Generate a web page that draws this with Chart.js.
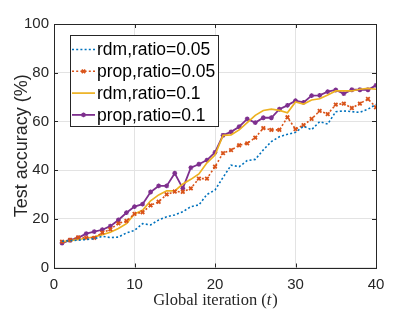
<!DOCTYPE html>
<html>
<head>
<meta charset="utf-8">
<script src="https://cdn.jsdelivr.net/npm/chart.js@4.4.1/dist/chart.umd.min.js"></script>
<style>
  html, body { margin: 0; padding: 0; background: #fff; }
  #wrap { width: 415px; height: 312px; position: relative; }
</style>
</head>
<body>
<div id="wrap"><canvas id="myChart" width="415" height="312"></canvas></div>
<script>
'use strict';

// data
var iterations = [1, 2, 3, 4, 5, 6, 7, 8, 9, 10, 11, 12, 13, 14, 15, 16, 17, 18, 19, 20,
  21, 22, 23, 24, 25, 26, 27, 28, 29, 30, 31, 32, 33, 34, 35, 36, 37, 38, 39, 40];
var seriesNames = ['rdm,ratio=0.05', 'prop,ratio=0.05', 'rdm,ratio=0.1', 'prop,ratio=0.1'];
var rdm005 = [10.8, 11, 11.2, 11.5, 11.8, 12.8, 12.3, 12.5, 14.2, 15.2, 18, 17.5, 19.5, 20.8, 21.6, 22.9, 25, 25.7, 30, 31.8,
  37, 42, 41.4, 43.9, 44.4, 48.3, 51.7, 53.7, 54.7, 55.5, 58, 56.6, 59.9, 58.9, 64, 64.3, 64, 63.7, 65, 67];
var prop005 = [10.6, 11.3, 12.4, 12.2, 12.2, 14.3, 15.7, 18.1, 19.1, 22, 22.7, 25.5, 27, 30, 31.2, 31.1, 32.5, 36.5, 36.5, 41.4,
  47, 48.2, 50.2, 51, 53.3, 57.2, 56.5, 56.5, 61.7, 56.8, 58.5, 61, 64.3, 63, 66.9, 67.3, 65.5, 67.3, 69.2, 65.8];
var rdm01 = [10.5, 11, 11.5, 12, 12.6, 13.5, 14.5, 16, 18, 22, 23.5, 27.4, 29.8, 31.5, 31.5, 34.3, 36.2, 38.4, 43, 46.2,
  54.3, 54.5, 56.5, 59.5, 62.5, 64.5, 65, 64.5, 63.5, 68, 67.1, 68.8, 69.3, 70.8, 72.5, 72.5, 72.5, 73.2, 73.6, 73.2];
var prop01 = [10, 11.2, 12.2, 13.9, 14.7, 15.5, 17, 19.5, 22.5, 25, 26, 31, 33.5, 33.5, 38.7, 32.5, 41, 42.4, 44.1, 47.3,
  54.3, 55.7, 57.8, 61, 59.5, 61.5, 61.5, 65, 66.6, 68.5, 67.8, 70.6, 70.7, 72.2, 72.9, 71.4, 73, 73, 73, 74.8];
var xTicks = [0, 10, 20, 30, 40];
var yTicks = [0, 20, 40, 60, 80, 100];

var font = '"Liberation Sans", Arial, sans-serif';
var serif = '"Liberation Serif", "Times New Roman", serif';

function toPoints(values) {
  return values.map(function (v, i) { return { x: iterations[i], y: v }; });
}

// inward ticks, full box, latex-ish x label, legend inside the axes
var boxPlugin = {
  id: 'boxPlugin',
  afterDatasetsDraw: function (chart) {
    var ctx = chart.ctx;
    var a = chart.chartArea;
    var xs = chart.scales.x;
    var ys = chart.scales.y;
    ctx.save();
    ctx.strokeStyle = '#262626';
    ctx.lineWidth = 1;
    ctx.beginPath();
    yTicks.forEach(function (t) {
      var y = Math.round(ys.getPixelForValue(t)) + 0.5;
      ctx.moveTo(a.left, y); ctx.lineTo(a.left + 4, y);
      ctx.moveTo(a.right, y); ctx.lineTo(a.right - 4, y);
    });
    xTicks.forEach(function (t) {
      var x = Math.round(xs.getPixelForValue(t)) + 0.5;
      ctx.moveTo(x, a.bottom); ctx.lineTo(x, a.bottom - 4);
      ctx.moveTo(x, a.top); ctx.lineTo(x, a.top + 4);
    });
    ctx.stroke();
    ctx.strokeRect(Math.round(a.left) + 0.5, Math.round(a.top) + 0.5,
      Math.round(a.right - a.left), Math.round(a.bottom - a.top));

    // legend
    var lx = 70.5, ly = 35.5, lw = 148, lh = 91;
    ctx.fillStyle = '#fff';
    ctx.fillRect(lx, ly, lw, lh);
    ctx.strokeRect(lx, ly, lw, lh);
    chart.data.datasets.forEach(function (ds, i) {
      var y = 49.5 + i * 21.8;
      ctx.save();
      ctx.strokeStyle = ds.borderColor;
      ctx.lineWidth = ds.borderWidth;
      ctx.setLineDash(ds.borderDash || []);
      ctx.beginPath();
      ctx.moveTo(72, y); ctx.lineTo(95, y);
      ctx.stroke();
      ctx.restore();
      if (ds.pointRadius > 0) {
        ctx.strokeStyle = ds.borderColor;
        ctx.fillStyle = ds.borderColor;
        ctx.lineWidth = ds.pointBorderWidth;
        Chart.helpers.drawPoint(ctx, {
          pointStyle: ds.pointStyle, radius: ds.pointRadius,
          borderWidth: ds.pointBorderWidth, rotation: 0
        }, 83.5, y);
      }
      ctx.fillStyle = '#000';
      ctx.font = '17.5px ' + font;
      ctx.textBaseline = 'middle';
      ctx.textAlign = 'left';
      ctx.fillText(ds.label, 97, y + 1);
    });

    // x axis label with italic t
    ctx.fillStyle = '#262626';
    ctx.textBaseline = 'middle';
    ctx.textAlign = 'left';
    var p1 = 'Global iteration (', p2 = 't', p3 = ')';
    ctx.font = '16.5px ' + serif;
    var w1 = ctx.measureText(p1).width;
    var w3 = ctx.measureText(p3).width;
    ctx.font = 'italic 16.5px ' + serif;
    var w2 = ctx.measureText(p2).width;
    var x0 = (a.left + a.right) / 2 - (w1 + w2 + w3) / 2;
    var ty = 301;
    ctx.font = '16.5px ' + serif;
    ctx.fillText(p1, x0, ty);
    ctx.font = 'italic 16.5px ' + serif;
    ctx.fillText(p2, x0 + w1, ty);
    ctx.font = '16.5px ' + serif;
    ctx.fillText(p3, x0 + w1 + w2 + 1, ty);
    ctx.restore();
  }
};

var ctx = document.getElementById('myChart').getContext('2d');

var chart = new Chart(ctx, {
  type: 'line',
  data: {
    datasets: [{
      label: seriesNames[0],
      data: toPoints(rdm005),
      borderColor: '#0072BD',
      borderWidth: 1.6,
      borderDash: [2, 2.2],
      pointRadius: 0
    },
    {
      label: seriesNames[1],
      data: toPoints(prop005),
      borderColor: '#D95319',
      backgroundColor: '#D95319',
      borderWidth: 1.6,
      borderDash: [2, 2.2],
      pointStyle: 'crossRot',
      pointRadius: 2.5,
      pointBorderWidth: 1.8
    },
    {
      label: seriesNames[2],
      data: toPoints(rdm01),
      borderColor: '#EDB120',
      borderWidth: 1.7,
      pointRadius: 0
    },
    {
      label: seriesNames[3],
      data: toPoints(prop01),
      borderColor: '#7E2F8E',
      backgroundColor: '#7E2F8E',
      borderWidth: 1.8,
      pointStyle: 'star',
      pointRadius: 2.4,
      pointBorderWidth: 1.3
    }]
  },
  options: {
    responsive: false,
    animation: false,
    layout: { padding: { left: 0, right: 39, top: 24, bottom: 0 } },
    plugins: {
      legend: { display: false },
      tooltip: { enabled: false }
    },
    elements: { line: { tension: 0 } },
    scales: {
      x: {
        type: 'linear',
        min: 0,
        max: 40,
        afterFit: function (s) { s.height = 44.5; },
        afterBuildTicks: function (s) { s.ticks = xTicks.map(function (v) { return { value: v }; }); },
        grid: { color: '#e3e3e3', drawTicks: false },
        border: { display: false },
        ticks: { color: '#262626', font: { family: font, size: 15 }, padding: 8, maxRotation: 0 }
      },
      y: {
        min: 0,
        max: 100,
        afterFit: function (s) { s.width = 54; },
        afterBuildTicks: function (s) { s.ticks = yTicks.map(function (v) { return { value: v }; }); },
        grid: { color: '#e3e3e3', drawTicks: false },
        border: { display: false },
        ticks: { color: '#262626', font: { family: font, size: 15 }, padding: 5 },
        title: {
          display: true,
          text: 'Test accuracy (%)',
          color: '#262626',
          font: { family: font, size: 18 },
          padding: { top: 11, bottom: 0 }
        }
      }
    }
  },
  plugins: [boxPlugin]
});
</script>
</body>
</html>
